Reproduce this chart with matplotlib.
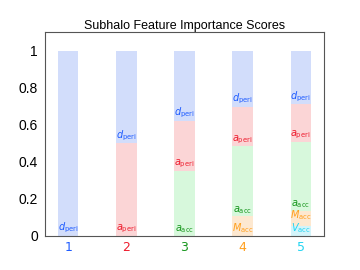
import numpy as np
import matplotlib
matplotlib.use("Agg")
import matplotlib.pyplot as plt

# step number (features added one at a time)
steps = [1, 2, 3, 4, 5]

# importance of each feature at each step (stacked bottom -> top)
features = ["V_acc", "M_acc", "a_acc", "a_peri", "d_peri"]
v_acc = [0, 0, 0, 0, 0.054]
m_acc = [0, 0, 0, 0.105, 0.080]
a_acc = [0, 0, 0.35, 0.379, 0.373]
a_peri = [0, 0.5, 0.27, 0.213, 0.203]
d_peri = [1.0, 0.5, 0.38, 0.303, 0.29]

labels = {
    "V_acc": r"$V_{\rm acc}$",
    "M_acc": r"$M_{\rm acc}$",
    "a_acc": r"$a_{\rm acc}$",
    "a_peri": r"$a_{\rm peri}$",
    "d_peri": r"$d_{\rm peri}$",
}
# text colour for each feature, and a pale version for the bar fill
text_colors = {
    "V_acc": "#22d4f2",
    "M_acc": "#ff9f1c",
    "a_acc": "#16961c",
    "a_peri": "#ee1c2e",
    "d_peri": "#1f5cff",
}
fill_colors = {
    "V_acc": "#d3f4fa",
    "M_acc": "#fde8d0",
    "a_acc": "#d7f8dc",
    "a_peri": "#fbd5d6",
    "d_peri": "#d2ddfb",
}
tick_colors = ["#1f5cff", "#ee1c2e", "#16961c", "#ff9f1c", "#22d4f2"]

values = {"V_acc": v_acc, "M_acc": m_acc, "a_acc": a_acc,
          "a_peri": a_peri, "d_peri": d_peri}

plt.rcParams['font.family'] = ['Liberation Sans', 'DejaVu Sans']

fig = plt.figure(figsize=(3.6, 2.7), dpi=100)
ax = fig.add_axes([0.125, 0.127, 0.775, 0.753])

bottom = np.zeros(len(steps))
last_label = np.full(len(steps), -1.0)  # keeps labels in a bar from touching
for f in features:
    h = np.array(values[f])
    ax.bar(steps, h, width=0.35, bottom=bottom, color=fill_colors[f],
           edgecolor="none")
    for i, (x, b, hh) in enumerate(zip(steps, bottom, h)):
        if hh > 0:
            y = max(b + 0.004, last_label[i] + 0.068)
            ax.text(x, y, labels[f], color=text_colors[f],
                    ha="center", va="bottom", fontsize=7)
            last_label[i] = y
    bottom += h

ax.set_xlim(0.6, 5.4)
ax.set_ylim(0, 1.1)
ax.set_yticks([0, 0.2, 0.4, 0.6, 0.8, 1])
ax.set_yticklabels(["0", "0.2", "0.4", "0.6", "0.8", "1"])
ax.set_xticks(steps)
ax.set_xticklabels([str(s) for s in steps], fontfamily="DejaVu Sans")
for t, c in zip(ax.get_xticklabels(), tick_colors):
    t.set_color(c)
ax.tick_params(axis="x", length=0, labelsize=9, pad=4)
ax.tick_params(axis="y", length=0, labelsize=10, pad=5)
for s in ax.spines.values():
    s.set_color("#555555")
    s.set_linewidth(0.8)
ax.set_title("Subhalo Feature Importance Scores", fontsize=9, pad=2)

fig.savefig("out.png", dpi=100)
